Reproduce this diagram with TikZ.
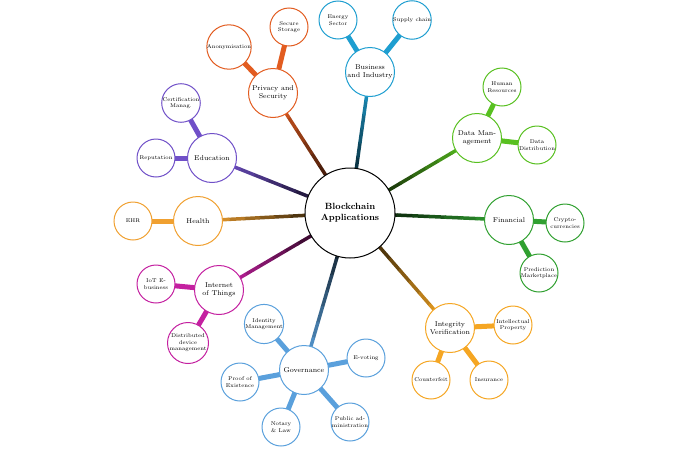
\documentclass[tikz,border=0pt]{standalone}
\usetikzlibrary{calc,backgrounds}
\definecolor{busc}{RGB}{30,158,208}
\definecolor{privc}{RGB}{226,92,32}
\definecolor{educ}{RGB}{112,80,200}
\definecolor{healc}{RGB}{240,160,48}
\definecolor{iotc}{RGB}{196,32,160}
\definecolor{govc}{RGB}{90,160,220}
\definecolor{intc}{RGB}{245,166,35}
\definecolor{finc}{RGB}{48,160,48}
\definecolor{datc}{RGB}{88,192,32}
\tikzset{
  hub/.style={circle,draw=black,line width=1pt,fill=white,minimum size=90pt,inner sep=0pt,align=center,font=\small\bfseries},
  topic/.style={circle,draw=#1,line width=1pt,fill=white,minimum size=49pt,inner sep=0pt,align=center,font=\scriptsize},
  leaf/.style={circle,draw=#1,line width=1pt,fill=white,minimum size=38pt,inner sep=0pt,align=center,font=\fontsize{5.5}{6.5}\selectfont},
  twig/.style={draw=#1,line width=5pt,line cap=round},
}
% branch from the hub, fading from black into the topic colour
\newcommand{\branch}[3]{%
  \foreach \i in {0,...,9}{
    \pgfmathsetmacro{\pct}{\i*11}
    \draw[line width=3.5pt,line cap=round,draw=#1!\pct!black]
      ($(#2)!\i/10!(#3)$) -- ($(#2)!\i/10+0.1!(#3)$);
  }}
\begin{document}
\begin{tikzpicture}[x=1pt,y=-1pt]
  \useasboundingbox (0,0) rectangle (700,450);
  \node[hub] (bc) at (350,213) {Blockchain\\Applications};

  \node[topic=busc] (bus) at (370,72) {Business\\and Industry};
  \node[leaf=busc] (ener) at (338,20) {Energy\\Sector};
  \node[leaf=busc] (supp) at (412,20) {Supply chain};

  \node[topic=privc] (priv) at (273,93) {Privacy and\\Security};
  \node[leaf=privc] (anon) at (229,47) {Anonymisation};
  \node[leaf=privc] (secu) at (289,27) {Secure\\Storage};

  \node[topic=educ] (edu) at (212,158) {Education};
  \node[leaf=educ] (cert) at (181,103) {Certification\\Manag.};
  \node[leaf=educ] (repu) at (156,158) {Reputation};

  \node[topic=healc] (heal) at (198,221) {Health};
  \node[leaf=healc] (ehr) at (133,221) {EHR};

  \node[topic=iotc] (iot) at (219,290) {Internet\\of Things};
  \node[leaf=iotc] (iote) at (156,284) {IoT E-\\business};
  \node[leaf=iotc] (dist) at (188,343) {Distributed\\device\\management};

  \node[topic=govc] (gov) at (304,370) {Governance};
  \node[leaf=govc] (iden) at (264,324) {Identity\\Management};
  \node[leaf=govc] (evot) at (366,358) {E-voting};
  \node[leaf=govc] (proo) at (240,382) {Proof of\\Existence};
  \node[leaf=govc] (nota) at (281,427) {Notary\\\& Law};
  \node[leaf=govc] (publ) at (350,422) {Public ad-\\ministration};

  \node[topic=intc] (inte) at (450,328) {Integrity\\Verification};
  \node[leaf=intc] (inpr) at (513,325) {Intellectual\\Property};
  \node[leaf=intc] (coun) at (431,380) {Counterfeit};
  \node[leaf=intc] (insu) at (489,380) {Insurance};

  \node[topic=finc] (fin) at (509,220) {Financial};
  \node[leaf=finc] (cryp) at (565,223) {Crypto-\\currencies};
  \node[leaf=finc] (pred) at (539,273) {Prediction\\Marketplace};

  \node[topic=datc] (data) at (477,138) {Data Man-\\agement};
  \node[leaf=datc] (huma) at (502,87) {Human\\Resources};
  \node[leaf=datc] (ddis) at (537,145) {Data\\Distribution};

  \begin{scope}[on background layer]
    \branch{busc}{bc}{bus}
    \branch{privc}{bc}{priv}
    \branch{educ}{bc}{edu}
    \branch{healc}{bc}{heal}
    \branch{iotc}{bc}{iot}
    \branch{govc}{bc}{gov}
    \branch{intc}{bc}{inte}
    \branch{finc}{bc}{fin}
    \branch{datc}{bc}{data}
    \draw[twig=busc] (bus) -- (ener);
    \draw[twig=busc] (bus) -- (supp);
    \draw[twig=privc] (priv) -- (anon);
    \draw[twig=privc] (priv) -- (secu);
    \draw[twig=educ] (edu) -- (cert);
    \draw[twig=educ] (edu) -- (repu);
    \draw[twig=healc] (heal) -- (ehr);
    \draw[twig=iotc] (iot) -- (iote);
    \draw[twig=iotc] (iot) -- (dist);
    \draw[twig=govc] (gov) -- (iden);
    \draw[twig=govc] (gov) -- (evot);
    \draw[twig=govc] (gov) -- (proo);
    \draw[twig=govc] (gov) -- (nota);
    \draw[twig=govc] (gov) -- (publ);
    \draw[twig=intc] (inte) -- (inpr);
    \draw[twig=intc] (inte) -- (coun);
    \draw[twig=intc] (inte) -- (insu);
    \draw[twig=finc] (fin) -- (cryp);
    \draw[twig=finc] (fin) -- (pred);
    \draw[twig=datc] (data) -- (huma);
    \draw[twig=datc] (data) -- (ddis);
  \end{scope}
\end{tikzpicture}
\end{document}
